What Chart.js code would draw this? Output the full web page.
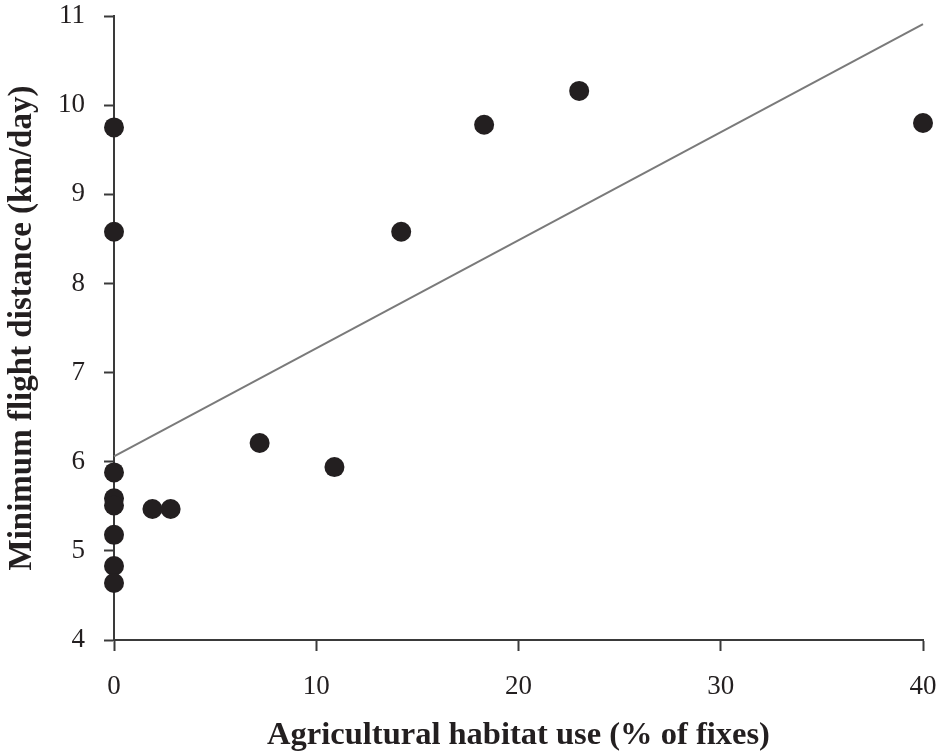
<!DOCTYPE html>
<html>
<head>
<meta charset="utf-8">
<script src="https://cdn.jsdelivr.net/npm/chart.js@4/dist/chart.umd.min.js"></script>
<style>
  html, body { margin: 0; padding: 0; background: #ffffff; }
  #wrap { width: 950px; height: 755px; }
</style>
</head>
<body>
<div id="wrap"><canvas id="c" width="950" height="755"></canvas></div>
<script>
// Data
const agriUse = [0, 0, 0, 0, 0, 0, 0, 0, 1.9, 2.8, 7.2, 10.9, 14.2, 18.3, 23.0, 40.0];
const flightDist = [9.75, 8.58, 5.88, 5.59, 5.51, 5.18, 4.83, 4.64, 5.47, 5.47, 6.21, 5.94, 8.58, 9.78, 10.16, 9.80];
const trendX = [0, 40];
const trendY = [6.06, 10.91];
const xTicks = [0, 10, 20, 30, 40];
const yTicks = [4, 5, 6, 7, 8, 9, 10, 11];

const xTitle = 'Agricultural habitat use (% of fixes)';
const yTitle = 'Minimum flight distance (km/day)';

const ink = '#231f20';
const axisColor = '#3a3a3a';
const serif = "'Liberation Serif', 'DejaVu Serif', serif";

const scatterPts = agriUse.map((x, i) => ({ x: x, y: flightDist[i] }));
const trendPts = trendX.map((x, i) => ({ x: x, y: trendY[i] }));

new Chart(document.getElementById('c'), {
  type: 'scatter',
  data: {
    datasets: [
      {
        type: 'line',
        data: trendPts,
        borderColor: '#7a7a7a',
        borderWidth: 2,
        pointRadius: 0,
        fill: false,
        clip: false,
        order: 2
      },
      {
        data: scatterPts,
        backgroundColor: ink,
        borderColor: ink,
        borderWidth: 0,
        pointRadius: 10,
        pointHoverRadius: 10,
        clip: false,
        order: 1
      }
    ]
  },
  options: {
    responsive: false,
    animation: false,
    devicePixelRatio: 1,
    layout: { padding: { top: 16, right: 27, left: 0, bottom: 0 } },
    plugins: {
      legend: { display: false },
      tooltip: { enabled: false }
    },
    scales: {
      x: {
        type: 'linear',
        min: 0,
        max: 40,
        afterBuildTicks: (s) => { s.ticks = xTicks.map(v => ({ value: v })); },
        afterFit: (s) => { s.height = 115; s.paddingLeft = 0; s.paddingRight = 0; },
        grid: {
          display: true,
          drawOnChartArea: false,
          drawTicks: true,
          tickLength: 11,
          tickWidth: 2,
          tickColor: axisColor
        },
        border: { display: true, color: axisColor, width: 2 },
        ticks: {
          color: ink,
          padding: 20,
          maxRotation: 0,
          font: { family: serif, size: 27 }
        },
        title: {
          display: true,
          text: xTitle,
          color: ink,
          padding: { top: 0, bottom: 0 },
          font: { family: serif, size: 32.5, weight: 'bold' }
        }
      },
      y: {
        type: 'linear',
        min: 4,
        max: 11,
        afterBuildTicks: (s) => { s.ticks = yTicks.map(v => ({ value: v })); },
        afterFit: (s) => { s.width = 114; s.paddingTop = 0; s.paddingBottom = 0; },
        grid: {
          display: true,
          drawOnChartArea: false,
          drawTicks: true,
          tickLength: 10,
          tickWidth: 2,
          tickColor: axisColor
        },
        border: { display: true, color: axisColor, width: 2 },
        ticks: {
          color: ink,
          padding: 19,
          font: { family: serif, size: 27 }
        },
        title: {
          display: true,
          text: yTitle,
          color: ink,
          padding: { top: 3, bottom: 0 },
          font: { family: serif, size: 33, weight: 'bold' }
        }
      }
    }
  }
});
</script>
</body>
</html>
